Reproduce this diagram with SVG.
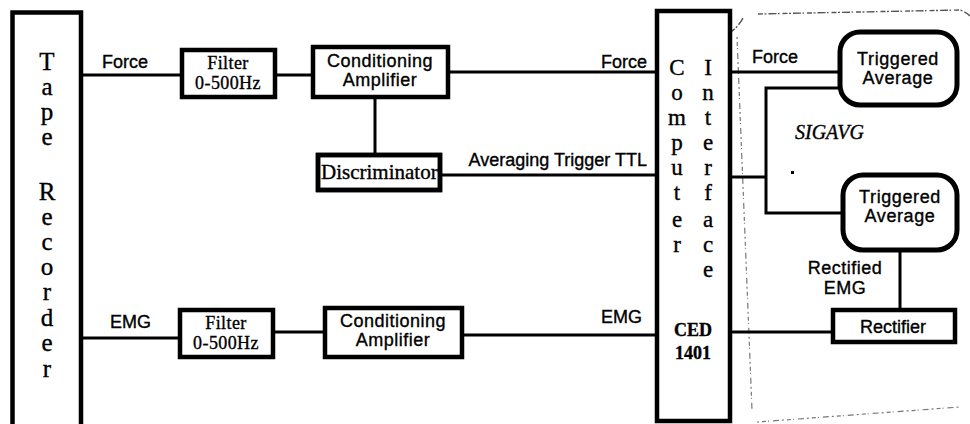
<svg xmlns="http://www.w3.org/2000/svg" width="970" height="424" viewBox="0 0 970 424">
  <style>
    .box { fill: #fff; stroke: #000; stroke-width: 4.5; }
    .frame { fill: none; stroke: #000; stroke-width: 4.5; }
    .rbox { fill: #fff; stroke: #000; stroke-width: 5; }
    .wire { fill: none; stroke: #000; stroke-width: 3; }
    .edge { fill: none; stroke: #555; stroke-width: 1.4; stroke-dasharray: 5 1.5 2 2 8 1.5 1.5 3; }
    .edge-faint { fill: none; stroke: #777; stroke-width: 1.2; stroke-dasharray: 2 3 4 2 1 4 6 3; }
    text { fill: #000; stroke: #000; stroke-width: 0.35; }
    .sans { font-family: "Liberation Sans", Arial, sans-serif; font-size: 18px; }
    .serif { font-family: "Liberation Serif", "Times New Roman", serif; }
    .big { font-size: 25px; }
    .col { font-size: 23px; }
    .mid { text-anchor: middle; }
  </style>

  <!-- SIGAVG software region outline -->
  <g id="sigavg-region">
    <path class="edge" d="M731,32 Q738,27 743,18"/>
    <path class="edge" d="M758,14 L960,10 Q966,12 970,16"/>
    <path class="edge-faint" d="M737,37 L752,410"/>
    <path class="edge-faint" d="M757,422 L960,407"/>
    <text class="serif" x="795" y="139" font-size="20" font-style="italic">SIGAVG</text>
    <rect x="791" y="171" width="3" height="3" fill="#000"/>
  </g>

  <!-- Connectors -->
  <g id="connectors">
    <path class="wire" d="M83,75 H182"/>
    <path class="wire" d="M275,75 H313"/>
    <path class="wire" d="M448,72 H657"/>
    <path class="wire" d="M375,97 V155"/>
    <path class="wire" d="M440,175 H657"/>
    <path class="wire" d="M83,338 H180"/>
    <path class="wire" d="M273,332 H325"/>
    <path class="wire" d="M462,335 H657"/>
    <path class="wire" d="M730,72 H840"/>
    <path class="wire" d="M730,177 H766"/>
    <path class="wire" d="M840,88 H766 V213 H843"/>
    <path class="wire" d="M900,250 V310"/>
    <path class="wire" d="M730,332 H833"/>
  </g>

  <!-- Connector labels -->
  <g id="labels">
    <text class="sans" x="102" y="68">Force</text>
    <text class="sans" x="647" y="68" text-anchor="end">Force</text>
    <text class="sans" x="647" y="166" text-anchor="end" font-size="19">Averaging Trigger TTL</text>
    <text class="sans" x="752" y="63">Force</text>
    <text class="sans" x="110" y="328">EMG</text>
    <text class="sans" x="642" y="323" text-anchor="end">EMG</text>
    <text class="sans mid" x="845" y="274" font-size="18" letter-spacing="0.5">Rectified</text>
    <text class="sans mid" x="845" y="294" font-size="18" letter-spacing="0.5">EMG</text>
  </g>

  <!-- Tape recorder -->
  <g id="tape-recorder">
    <path class="box" d="M12.5,430 V12.5 H81 V430"/>
    <g class="serif big mid">
      <text x="47" y="70">T</text>
      <text x="47" y="95">a</text>
      <text x="47" y="120">p</text>
      <text x="47" y="145">e</text>
      <text x="47" y="200">R</text>
      <text x="47" y="225">e</text>
      <text x="47" y="250">c</text>
      <text x="47" y="275">o</text>
      <text x="47" y="300">r</text>
      <text x="47" y="326">d</text>
      <text x="47" y="351">e</text>
      <text x="47" y="377">r</text>
    </g>
  </g>

  <!-- Force channel -->
  <g id="filter-force">
    <rect class="box" x="182" y="50" width="93" height="47"/>
    <text class="serif mid" x="228" y="69" font-size="18" letter-spacing="0.4">Filter</text>
    <text class="serif mid" x="228" y="89" font-size="18" letter-spacing="0.4">0-500Hz</text>
  </g>
  <g id="amp-force">
    <rect class="box" x="313" y="47" width="135" height="50"/>
    <text class="sans mid" x="380" y="67" font-size="17" letter-spacing="0.5">Conditioning</text>
    <text class="sans mid" x="380" y="86" font-size="17" letter-spacing="0.5">Amplifier</text>
  </g>
  <g id="discriminator">
    <rect class="box" x="318" y="155" width="122" height="35"/>
    <text class="serif" x="321" y="179" font-size="21">Discriminator</text>
    <rect class="frame" x="318" y="155" width="122" height="35"/>
  </g>

  <!-- EMG channel -->
  <g id="filter-emg">
    <rect class="box" x="180" y="310" width="93" height="47"/>
    <text class="serif mid" x="226" y="329" font-size="18" letter-spacing="0.4">Filter</text>
    <text class="serif mid" x="226" y="349" font-size="18" letter-spacing="0.4">0-500Hz</text>
  </g>
  <g id="amp-emg">
    <rect class="box" x="325" y="308" width="137" height="49"/>
    <text class="sans mid" x="393" y="327" font-size="17" letter-spacing="0.5">Conditioning</text>
    <text class="sans mid" x="393" y="346" font-size="17" letter-spacing="0.5">Amplifier</text>
  </g>

  <!-- Computer interface -->
  <g id="computer-interface">
    <rect class="box" x="657" y="11" width="73" height="410"/>
    <g class="serif col mid">
      <text x="677" y="75">C</text>
      <text x="677" y="100">o</text>
      <text x="677" y="125">m</text>
      <text x="677" y="150">p</text>
      <text x="677" y="175">u</text>
      <text x="677" y="200">t</text>
      <text x="677" y="227">e</text>
      <text x="677" y="252">r</text>
      <text x="708" y="75">I</text>
      <text x="708" y="100">n</text>
      <text x="708" y="125">t</text>
      <text x="708" y="150">e</text>
      <text x="708" y="175">r</text>
      <text x="708" y="200">f</text>
      <text x="708" y="227">a</text>
      <text x="708" y="252">c</text>
      <text x="708" y="277">e</text>
    </g>
    <text class="serif mid" x="693" y="336" font-size="18" font-weight="bold">CED</text>
    <text class="serif mid" x="693" y="359" font-size="18" font-weight="bold">1401</text>
  </g>

  <!-- SIGAVG blocks -->
  <g id="avg-force">
    <rect class="rbox" x="840" y="32" width="117" height="73" rx="20"/>
    <text class="sans mid" x="898" y="65" font-size="17" letter-spacing="0.6">Triggered</text>
    <text class="sans mid" x="898" y="84" font-size="17" letter-spacing="0.6">Average</text>
  </g>
  <g id="avg-emg">
    <rect class="rbox" x="843" y="175" width="114" height="75" rx="20"/>
    <text class="sans mid" x="900" y="203" font-size="17" letter-spacing="0.6">Triggered</text>
    <text class="sans mid" x="900" y="222" font-size="17" letter-spacing="0.6">Average</text>
  </g>
  <g id="rectifier">
    <rect class="box" x="833" y="310" width="122" height="32"/>
    <text class="sans mid" x="893" y="333" font-size="19">Rectifier</text>
  </g>
</svg>
